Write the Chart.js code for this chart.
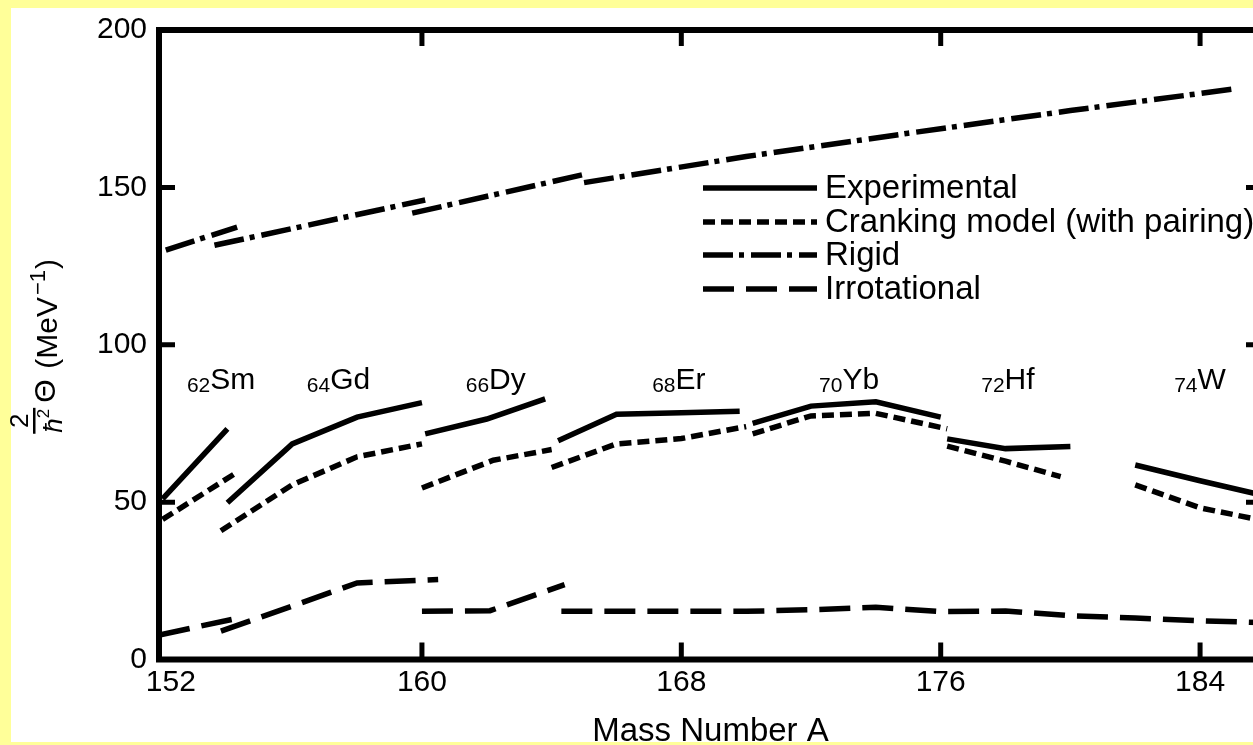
<!DOCTYPE html>
<html lang="en">
<head>
<meta charset="UTF-8">
<title>Moments of inertia of rare-earth nuclei</title>
<script src="https://cdn.jsdelivr.net/npm/chart.js@4.4.0/dist/chart.umd.min.js"></script>
<style>
    body {
        margin: 0;
        width: 1253px;
        height: 745px;
        overflow: hidden;
        position: relative;
        background: #ffff99;
    }
    .sheet {
        position: absolute;
        left: 11px;
        top: 8px;
        width: 1300px;
        height: 734px;
        background: #fff;
    }
    canvas#chart {
        position: absolute;
        left: 0;
        top: 0;
    }
</style>
</head>
<body>
<div class="sheet"></div>
<canvas id="chart" width="1290" height="745"></canvas>
<script>
    const FONT = "'Liberation Sans', Arial, sans-serif";

    const xTicks = [152, 160, 168, 176, 184];
    const yTicks = [0, 50, 100, 150, 200];
    const protonNumbers = [62, 64, 66, 68, 70, 72, 74];
    const elementSymbols = ['Sm', 'Gd', 'Dy', 'Er', 'Yb', 'Hf', 'W'];
    const labelA = [152.75, 156.45, 161.35, 167.1, 172.25, 177.25, 183.2];
    const labelValue = 86;
    const seriesNames = ['Experimental', 'Cranking model (with pairing)', 'Rigid', 'Irrotational'];

    // [A, 2Θ/ħ²] pairs, one run per element chain
    const experimental = [
        [[152, 51], [154, 73.3]],
        [[154, 49.8], [156, 68.5], [158, 77], [160, 81.6]],
        [[160.1, 71.7], [162, 76.4], [163.8, 82.8]],
        [[164.2, 69.5], [166, 77.9], [168, 78.4], [169.8, 78.9]],
        [[170.2, 75], [172, 80.5], [174, 81.9], [176, 77]],
        [[176.2, 70.1], [178, 67], [180, 67.7]],
        [[182, 61.8], [184, 56.8], [186, 52]]
    ];
    const cranking = [
        [[152, 44.5], [154.3, 59.5]],
        [[153.8, 40.9], [156, 55.5], [158, 64.4], [160, 68.5]],
        [[160, 54.5], [162.2, 63.3], [164, 66.7]],
        [[164, 61], [166, 68.5], [168, 70.2], [170, 74]],
        [[170.2, 71.7], [172, 77.4], [174, 78.2], [176.2, 73.3]],
        [[176.2, 67.8], [178, 63], [179.7, 58.1]],
        [[182, 55.5], [184, 48.2], [186, 44]]
    ];
    const rigid = [
        [[152.1, 130.1], [154.3, 137.4]],
        [[153.6, 131.6], [160.1, 146]],
        [[159.7, 141.8], [165, 154.1]],
        [[165, 151.5], [170, 159.8], [175, 167.2], [180, 174.4], [185, 181.2]]
    ];
    const irrotational = [
        [[151.9, 7.8], [154.3, 13.1]],
        [[153.8, 9], [156, 17], [158, 24.3], [160.5, 25.4]],
        [[160, 15.3], [162.1, 15.5], [164.4, 23.8]],
        [[164.3, 15.3], [170, 15.3], [172, 15.8], [174, 16.6], [176, 15.2], [178, 15.4], [180, 13.9], [182, 13.2], [184, 12.3], [186, 11.7]]
    ];

    const dashes = [[], [12, 6], [30, 6, 5, 7], [31, 12]];

    // join the runs, with a null point between them so the line breaks
    function toPoints(runs) {
        const pts = [];
        runs.forEach((run, i) => {
            if (i > 0) pts.push({ x: run[0][0], y: null });
            run.forEach(p => pts.push({ x: p[0], y: p[1] }));
        });
        return pts;
    }

    const datasets = [experimental, cranking, rigid, irrotational].map((runs, i) => ({
        label: seriesNames[i],
        data: toPoints(runs),
        borderColor: '#000',
        borderWidth: 5.5,
        borderDash: dashes[i],
        pointRadius: 0,
        fill: false,
        tension: 0,
        spanGaps: false
    }));

    const decorations = {
        id: 'decorations',
        afterDatasetsDraw(chart) {
            const { ctx, chartArea: { left, right, top, bottom }, scales: { x, y } } = chart;
            ctx.save();
            ctx.strokeStyle = '#000';
            ctx.fillStyle = '#000';
            ctx.setLineDash([]);

            // frame with inward ticks
            ctx.lineWidth = 6;
            ctx.strokeRect(left, top, right - left, bottom - top);
            ctx.lineWidth = 5;
            ctx.beginPath();
            xTicks.slice(1).forEach(v => {
                const px = x.getPixelForValue(v);
                ctx.moveTo(px, bottom); ctx.lineTo(px, bottom - 17);
                ctx.moveTo(px, top); ctx.lineTo(px, top + 16);
            });
            yTicks.slice(1, -1).forEach(v => {
                const py = y.getPixelForValue(v);
                ctx.moveTo(left, py); ctx.lineTo(left + 16, py);
                ctx.moveTo(right, py); ctx.lineTo(right - 16, py);
            });
            ctx.stroke();

            // element labels
            ctx.textAlign = 'left';
            ctx.textBaseline = 'alphabetic';
            elementSymbols.forEach((sym, i) => {
                let px = x.getPixelForValue(labelA[i]);
                const py = y.getPixelForValue(labelValue);
                ctx.font = '21px ' + FONT;
                ctx.fillText(String(protonNumbers[i]), px, py + 3);
                px += ctx.measureText(String(protonNumbers[i])).width;
                ctx.font = '30px ' + FONT;
                ctx.fillText(sym, px, py);
            });

            // legend
            const lx0 = 703, lx1 = 817, rowY = [188, 222, 255, 289];
            ctx.font = '33px ' + FONT;
            ctx.textBaseline = 'middle';
            seriesNames.forEach((name, i) => {
                ctx.lineWidth = 5.5;
                ctx.setLineDash(dashes[i]);
                ctx.beginPath();
                ctx.moveTo(lx0, rowY[i]);
                ctx.lineTo(lx1, rowY[i]);
                ctx.stroke();
                ctx.fillText(name, 825, rowY[i] + 1);
            });
            ctx.setLineDash([]);

            // x title
            ctx.textAlign = 'center';
            ctx.textBaseline = 'alphabetic';
            ctx.font = '33px ' + FONT;
            ctx.fillText('Mass Number A', (left + right) / 2, 741);

            // y title, rotated: 2/ħ² Θ (MeV⁻¹)
            ctx.translate(57, (top + bottom) / 2);
            ctx.rotate(-Math.PI / 2);
            ctx.textAlign = 'left';
            let u = -89;
            ctx.font = '26px ' + FONT;
            const wNum = ctx.measureText('2').width;
            ctx.font = 'italic 26px ' + FONT;
            const wH = ctx.measureText('ħ').width;
            ctx.font = '17px ' + FONT;
            const wSq = ctx.measureText('2').width;
            const wFrac = Math.max(wNum, wH + wSq) + 2;
            ctx.font = '26px ' + FONT;
            ctx.fillText('2', u + (wFrac - wNum) / 2, -29);
            ctx.fillRect(u, -24, wFrac, 2.5);
            ctx.font = 'italic 26px ' + FONT;
            ctx.fillText('ħ', u + (wFrac - wH - wSq) / 2, 5);
            ctx.font = '17px ' + FONT;
            ctx.fillText('2', u + (wFrac - wH - wSq) / 2 + wH, -8);
            ctx.font = '30px ' + FONT;
            ctx.fillText('Θ', -58, -2);
            u = -24;
            ctx.font = '30px ' + FONT;
            ctx.fillText('(MeV', u, 0);
            u += ctx.measureText('(MeV').width + 2;
            ctx.font = '22px ' + FONT;
            ctx.fillText('\u22121', u, -12);
            u += ctx.measureText('\u22121').width + 1;
            ctx.font = '30px ' + FONT;
            ctx.fillText(')', u, 0);
            ctx.restore();
        }
    };

    new Chart(document.getElementById('chart'), {
        type: 'line',
        data: { datasets: datasets },
        options: {
            responsive: false,
            animation: false,
            layout: { padding: { top: 21, right: 28, left: 0, bottom: 0 } },
            plugins: {
                legend: { display: false },
                tooltip: { enabled: false }
            },
            scales: {
                x: {
                    type: 'linear',
                    min: 151.89,
                    max: 185.91,
                    grid: { display: false, drawTicks: false },
                    border: { display: false },
                    afterBuildTicks: s => { s.ticks = xTicks.map(v => ({ value: v })); },
                    afterFit: s => { s.height = 85.5; },
                    ticks: {
                        color: '#000',
                        font: { family: FONT, size: 30 },
                        padding: 5,
                        maxRotation: 0,
                        autoSkip: false,
                        // the first label sits a little right of its tick, clear of the "0"
                        callback: v => (v === xTicks[0] ? '  ' + v : String(v))
                    }
                },
                y: {
                    min: 0,
                    max: 200,
                    grid: { display: false, drawTicks: false },
                    border: { display: false },
                    afterBuildTicks: s => { s.ticks = yTicks.map(v => ({ value: v })); },
                    afterFit: s => { s.width = 159; },
                    ticks: { color: '#000', font: { family: FONT, size: 30 }, padding: 12 }
                }
            }
        },
        plugins: [decorations]
    });
</script>
</body>
</html>
